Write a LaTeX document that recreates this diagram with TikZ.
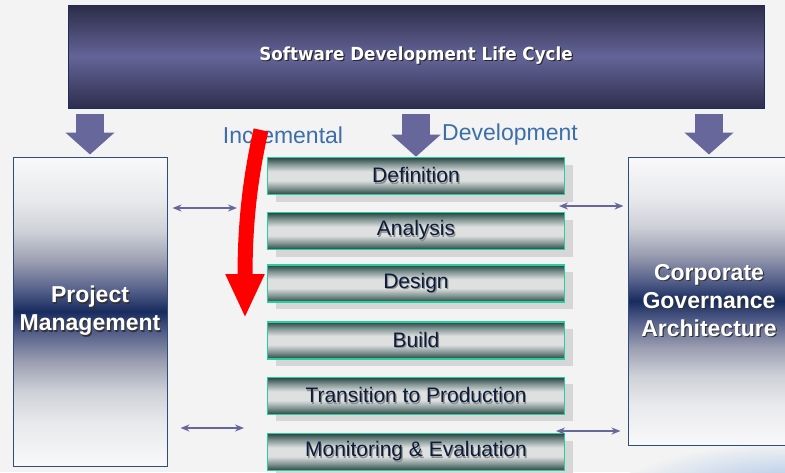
\documentclass[tikz,border=0pt]{standalone}
\usepackage{fontspec}
\setmainfont{Liberation Sans}
\newfontfamily\titlefont[FakeStretch=0.93]{DejaVu Sans}
\usetikzlibrary{positioning, arrows.meta, shadows}
\definecolor{bgc}{HTML}{F3F3F3}
\definecolor{cornerblue}{HTML}{A9C4E6}
\definecolor{cycleedge}{HTML}{1E2C5A}
\definecolor{feedc}{HTML}{67679B}
\definecolor{incblue}{HTML}{3C6EA8}
\definecolor{sideedge}{HTML}{2E4C80}
\definecolor{phedge}{HTML}{26CF9E}
\definecolor{phtext}{HTML}{0B1D3A}
\definecolor{phshadow}{HTML}{D6D6D6}
\pgfdeclareverticalshading{topbar}{100bp}{color(0bp)=({rgb,255:red,46;green,46;blue,78}); color(25bp)=({rgb,255:red,46;green,46;blue,78});
  color(50bp)=({rgb,255:red,100;green,100;blue,152}); color(75bp)=({rgb,255:red,44;green,44;blue,72}); color(100bp)=({rgb,255:red,44;green,44;blue,72})}
\pgfdeclareverticalshading{sidebar}{100bp}{color(0bp)=(white); color(25bp)=({rgb,255:red,249;green,249;blue,251});
  color(32bp)=({rgb,255:red,232;green,233;blue,236}); color(37bp)=({rgb,255:red,207;green,209;blue,216});
  color(42bp)=({rgb,255:red,154;green,157;blue,176}); color(46.5bp)=({rgb,255:red,85;green,96;blue,138});
  color(50bp)=({rgb,255:red,23;green,43;blue,94}); color(53.5bp)=({rgb,255:red,85;green,96;blue,138});
  color(58bp)=({rgb,255:red,154;green,157;blue,176}); color(63bp)=({rgb,255:red,207;green,209;blue,216});
  color(68bp)=({rgb,255:red,232;green,233;blue,236}); color(75bp)=({rgb,255:red,249;green,249;blue,251}); color(100bp)=(white)}
\pgfdeclareverticalshading{phasebar}{100bp}{color(0bp)=({rgb,255:red,40;green,70;blue,66}); color(25bp)=({rgb,255:red,40;green,70;blue,66});
  color(34bp)=({rgb,255:red,130;green,150;blue,148}); color(44bp)=({rgb,255:red,222;green,224;blue,224});
  color(56bp)=({rgb,255:red,222;green,224;blue,224}); color(66bp)=({rgb,255:red,130;green,150;blue,148});
  color(75bp)=({rgb,255:red,40;green,70;blue,66}); color(100bp)=({rgb,255:red,40;green,70;blue,66})}
\newcommand\ghost[2]{\makebox[0pt][l]{\hspace{1.2pt}\raisebox{-1.2pt}{\textcolor{#2}{#1}}}#1}
\tikzset{cycle/.style={draw=cycleedge, line width=1pt, shading=topbar, minimum width=696pt, minimum height=103pt, inner sep=0pt,
           text=white, font=\titlefont\bfseries\fontsize{18}{21}\selectfont},
         side/.style={draw=sideedge, line width=1pt, shading=sidebar, inner sep=0pt, align=center,
           text=white, font=\bfseries\fontsize{23}{28}\selectfont},
         phase/.style={draw=phedge, line width=1.6pt, shading=phasebar, minimum width=297pt, minimum height=37pt, inner sep=0pt,
           text=phtext, font=\fontsize{21}{24}\selectfont,
           drop shadow={shadow xshift=8pt, shadow yshift=-7pt, fill=phshadow, opacity=1}},
         caption/.style={text=incblue, font=\fontsize{23}{26}\selectfont},
         feed/.style={draw=feedc, line width=28pt, -{Triangle[length=22pt,width=48pt]}, shorten <=5pt},
         link/.style={draw=feedc, line width=2pt, {Stealth[length=9pt,width=7pt]}-{Stealth[length=9pt,width=7pt]}},
         sweep/.style={draw=red, line width=15pt, -{Triangle[length=44pt,width=36pt]}},
        }

\begin{document}
\begin{tikzpicture}[x=1pt,y=-1pt]
        \useasboundingbox (0,0) rectangle (785,472);
        \fill[bgc] (0,0) rectangle (785,472);
        \path[shading=radial, inner color=cornerblue, outer color=bgc] (790,488) ellipse [x radius=170pt, y radius=45pt];

        \node[cycle](sdlc)at(416,56.5){\ghost{Software Development Life Cycle}{black!85}};
        \node[side,minimum width=154pt,minimum height=309pt](pm)at(90,311.5){\ghost{Project}{black!80}\\\ghost{Management}{black!80}};
        \node[side,minimum width=162pt,minimum height=288pt](cga)at(709,301){\ghost{Corporate}{black!80}\\\ghost{Governance}{black!80}\\\ghost{Architecture}{black!80}};

        \node[phase](def)at(416,176){\ghost{Definition}{black!45}};
        \node[phase,below=16.5pt of def](ana){\ghost{Analysis}{black!45}};
        \node[phase,below=14pt of ana](des){\ghost{Design}{black!45}};
        \node[phase,below=18pt of des](bld){\ghost{Build}{black!45}};
        \node[phase,below=17pt of bld](trn){\ghost{Transition to Production}{black!45}};
        \node[phase,below=17.5pt of trn](mon){\ghost{Monitoring \& Evaluation}{black!45}};

        \node[caption](inc)at(283,135){Incremental};
        \node[caption](dev)at(510,135){Development};

        \draw[feed](pm.north |- sdlc.south)--([yshift=2pt]pm.north);
        \draw[feed](def.north |- sdlc.south)--(def.north);
        \draw[feed](cga.north |- sdlc.south)--([yshift=2pt]cga.north);

        \coordinate(pmA)at(237,208);
        \coordinate(pmB)at(244,428);
        \coordinate(gA)at(559,206);
        \coordinate(gB)at(556,431);
        \draw[link,shorten <=5pt](pm.east |- pmA)--(pmA);
        \draw[link,shorten <=13pt](pm.east |- pmB)--(pmB);
        \draw[link,shorten >=4pt](gA)--(cga.west |- gA);
        \draw[link,shorten >=7pt](gB)--(cga.west |- gB);

        \coordinate(incTop)at(261,130);
        \coordinate(incEnd)at(245,318);
        \draw[sweep](incTop)..controls(252,170)and(245,215)..(incEnd);
    \end{tikzpicture}
\end{document}
